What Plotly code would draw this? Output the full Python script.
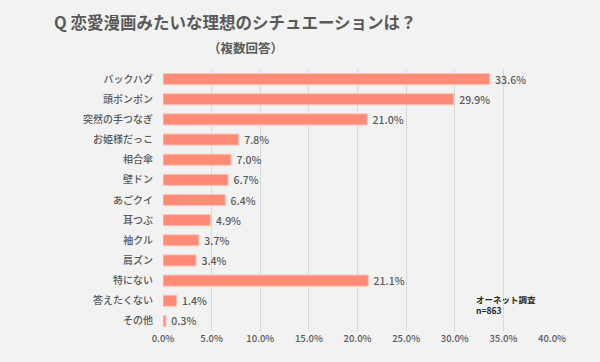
import plotly.graph_objects as go

categories = ["バックハグ", "頭ポンポン", "突然の手つなぎ", "お姫様だっこ", "相合傘", "壁ドン",
              "あごクイ", "耳つぶ", "袖クル", "肩ズン", "特にない", "答えたくない", "その他"]
values = [33.6, 29.9, 21.0, 7.8, 7.0, 6.7, 6.4, 4.9, 3.7, 3.4, 21.1, 1.4, 0.3]
x_ticks = [0, 5, 10, 15, 20, 25, 30, 35, 40]

FONT = "Noto Sans CJK JP"
W, H = 600, 362
L, R, T, B = 163, 48, 69, 31

fig = go.Figure(go.Bar(
    x=values, y=categories, orientation="h",
    marker=dict(color="#ff8a75", line=dict(color="#ffc3b6", width=1)),
    text=[f" {v:.1f}%" for v in values], textposition="outside",
    textfont=dict(family=FONT, size=10.5, color="#595959", weight=500),
    constraintext="none",
    cliponaxis=False, width=0.55,
))

fig.update_layout(
    width=W, height=H,
    margin=dict(l=L, r=R, t=T, b=B, autoexpand=False),
    paper_bgcolor="#f2f2f2", plot_bgcolor="#f2f2f2",
    showlegend=False,
    font=dict(family=FONT, color="#595959"),
    xaxis=dict(range=[0, 40], tickvals=x_ticks, ticktext=[f"{t:.1f}%" for t in x_ticks],
               showgrid=True, gridcolor="#d9d9d9", gridwidth=1, zeroline=False,
               tickfont=dict(family=FONT, size=9.5, color="#595959", weight=500), ticks="", showline=False,
               automargin=False),
    yaxis=dict(categoryorder="array", categoryarray=categories, autorange="reversed",
               tickfont=dict(family=FONT, size=10, color="#595959", weight=500), ticks="", showgrid=False,
               ticklabelstandoff=9, automargin=False),
    annotations=[
        dict(text="<b>Q 恋愛漫画みたいな理想のシチュエーションは？</b>", xref="paper", yref="paper",
             x=(52 - L) / (W - L - R), y=(H - B - 22) / (H - T - B), xanchor="left", yanchor="middle",
             showarrow=False, font=dict(family=FONT, size=16.5, color="#595959")),
        dict(text="<b>（複数回答）</b>", xref="paper", yref="paper",
             x=(245 - L) / (W - L - R), y=(H - B - 48) / (H - T - B), xanchor="center", yanchor="middle",
             showarrow=False, font=dict(family=FONT, size=12.5, color="#595959")),
        dict(text="<b>オーネット調査<br>n=863</b>", xref="paper", yref="paper",
             x=(474 - L) / (W - L - R), y=(H - B - 291) / (H - T - B), xanchor="left", yanchor="top",
             align="left", showarrow=False, font=dict(family=FONT, size=8.5, color="#262626")),
    ],
)

fig.write_html("out.html", config={"displayModeBar": False},
               post_script="document.body.style.margin='0';document.body.style.background='#f2f2f2';")
